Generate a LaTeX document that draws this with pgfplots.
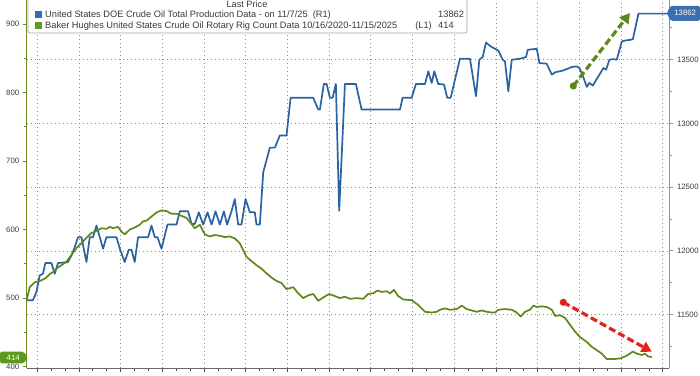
\documentclass[border=0pt]{standalone}
\usepackage{fontspec}
\setmainfont{Liberation Sans}
\usepackage{pgfplots}
\pgfplotsset{compat=1.18}
\usetikzlibrary{arrows.meta}
\definecolor{blueline}{HTML}{2B63A0}
\definecolor{greenline}{HTML}{5F8719}
\definecolor{leftspine}{HTML}{6B8E23}
\definecolor{rightspine}{HTML}{7A96B5}
\definecolor{gridc}{HTML}{8A8A8A}
\definecolor{tickc}{HTML}{3A3A3A}
\definecolor{gtag}{HTML}{5C9A1B}
\definecolor{btag}{HTML}{3A6FB0}
\definecolor{legblue}{HTML}{2F6EB5}
\definecolor{leggreen}{HTML}{5E9A1E}
\definecolor{redarrow}{HTML}{E32219}
\definecolor{greenarrow}{HTML}{5C8A1A}

\pgfplotstableread{
t v
0.00 497
0.29 516
0.77 523
1.25 525
1.56 527
1.89 530
2.21 535
2.52 538
2.85 543
3.33 548
3.81 553
4.29 563
4.77 573
5.25 580
5.73 588
6.21 595
6.69 598
7.17 602
7.65 601
7.97 604
8.28 602
8.76 604
9.09 597
9.40 593
9.88 600
10.36 603
10.84 607
11.16 612
11.49 613
11.97 619
12.45 625
12.93 628
13.41 627
13.89 623
14.37 623
14.85 620
15.33 617
15.81 608
16.12 602
16.60 607
17.08 593
17.56 590
18.04 592
18.52 591
19.00 589
19.48 590
19.96 587
20.44 580
21.08 560
21.56 554
22.04 548
22.52 543
23.00 536
23.48 530
23.96 525
24.44 522
24.92 513
25.56 516
26.04 507
26.52 500
27.00 504
27.48 506
27.96 496
28.44 501
29.01 506
29.56 503
30.04 500
30.52 502
31.00 499
31.64 500
32.27 499
32.75 506
33.23 507
33.62 511
34.04 509
34.52 510
34.84 507
35.22 512
35.63 503
36.11 498
36.92 497
37.55 490
38.20 480
38.84 479
39.32 480
39.64 483
40.12 485
40.60 483
41.24 484
41.72 489
42.20 484
42.68 482
43.16 480
43.64 482
44.12 480
44.60 479
44.91 479
45.23 483
45.87 484
46.52 483
47.00 479
47.38 473
47.79 480
48.27 483
48.59 489
48.92 487
49.40 488
49.88 487
50.36 483
50.67 474
51.15 475
51.63 471
52.11 461
52.59 451
53.07 443
53.71 436
54.19 429
54.67 424
55.15 419
55.63 411
56.27 411
56.91 412
57.55 416
58.13 422
58.51 419
58.99 417
59.31 419
59.57 415
59.95 414
}\rigtable

\pgfplotstableread{
t v
0.00 11612
0.60 11612
0.93 11677
1.25 11807
1.56 11820
1.79 11904
2.37 11904
2.69 11820
3.00 11904
3.96 11912
4.29 11963
4.61 12029
4.92 12107
5.25 12107
5.73 11912
6.05 12107
6.36 12107
6.69 12198
7.01 12107
7.32 12016
7.65 12107
8.61 12107
8.93 12016
9.40 11912
9.79 12008
10.05 12008
10.36 11912
10.68 12107
11.64 12107
11.97 12198
12.28 12107
12.54 12107
12.93 12016
13.50 12206
14.37 12206
14.68 12310
15.48 12310
15.81 12211
16.12 12211
16.51 12302
16.92 12206
17.34 12302
17.73 12206
18.11 12310
18.52 12206
18.91 12310
19.22 12206
19.64 12310
19.96 12406
20.28 12206
20.60 12206
20.99 12406
21.40 12302
21.88 12302
22.04 12206
22.36 12206
22.68 12615
23.32 12810
23.80 12810
24.28 12906
24.92 12906
25.31 13201
27.48 13201
27.96 13109
28.12 13109
28.50 13310
28.76 13310
29.08 13201
29.34 13201
29.65 13310
29.97 12315
30.52 13310
31.57 13310
32.12 13109
35.80 13109
36.05 13201
36.92 13201
37.33 13310
38.20 13310
38.51 13409
38.84 13318
39.09 13409
39.47 13310
40.02 13305
40.33 13201
40.66 13201
41.55 13508
42.51 13508
43.09 13213
43.41 13500
43.73 13521
44.05 13635
44.50 13604
45.23 13573
45.65 13500
45.87 13487
46.19 13252
46.52 13500
47.31 13508
47.89 13521
48.05 13578
48.92 13586
49.17 13474
49.87 13469
50.36 13383
50.67 13401
51.47 13416
52.28 13443
52.75 13448
53.01 13435
53.33 13375
53.71 13287
53.96 13318
54.29 13297
54.83 13370
55.31 13435
55.57 13422
55.88 13500
56.27 13505
56.59 13500
57.07 13643
57.39 13651
57.87 13656
58.13 13661
58.67 13862
61.60 13862
}\prodtable

\begin{document}
\begin{tikzpicture}[x=1bp,y=1bp]
\useasboundingbox (-26.7,-7) rectangle (673.3,368);
\pgfplotsset{
  base/.style={
    scale only axis, width=642.3bp, height=368bp,
    at={(0,0)}, anchor=south west,
    xmin=0, xmax=61.6,
    tick align=outside,
    major tick length=4bp, minor tick length=2.5bp,
    scaled y ticks=false,
    /pgf/number format/1000 sep={},
    /pgf/number format/assume math mode=true,
    ticklabel style={font=\fontsize{7.8}{9}\selectfont, text=tickc},
  }
}
% right axis: production (blue), grid, bottom axis
\begin{axis}[base,
  axis y line*=right, axis x line*=bottom,
  ymin=11080, ymax=13969,
  ytick={11500,12000,12500,13000,13500},
  minor ytick={11250,11750,12250,12750,13250,13750},
  xtick={1,5,...,61}, xticklabels={}, minor x tick num=2,
  xmajorgrids, ymajorgrids,
  major grid style={draw=gridc, line width=0.6bp, dash pattern=on 0.8bp off 3.2bp},
  y axis line style={draw=rightspine, line width=0.9bp},
  x axis line style={draw=gray!80!black, line width=0.6bp},
  ytick style={draw=rightspine, line width=0.8bp},
  xtick style={draw=gray!60!black, line width=0.6bp},
  yticklabel style={xshift=0.5bp},
]
\addplot[blueline, line width=1.7bp, line join=round] table[x=t, y=v] {\prodtable};
\end{axis}
% left axis: rig count (green)
\begin{axis}[base,
  axis y line*=left, axis x line=none,
  ymin=398, ymax=935,
  ytick={400,500,600,700,800,900},
  minor ytick={450,550,650,750,850},
  y axis line style={draw=leftspine, line width=0.9bp},
  ytick style={draw=leftspine, line width=0.8bp},
  xtick=\empty,
]
\addplot[greenline, line width=1.7bp, line join=round] table[x=t, y=v] {\rigtable};
\end{axis}

% annotations
\draw[greenarrow, line width=3.2bp, dash pattern=on 7bp off 3.5bp, -{Triangle[length=10bp, width=11bp]}] (546.6,282) -- (603.3,355);
\fill[greenarrow] (546.6,282) circle (3.6bp);
\draw[redarrow, line width=3.2bp, dash pattern=on 7bp off 3.5bp, -{Triangle[length=10bp, width=11bp]}] (536.6,65.7) -- (625,16.3);
\fill[redarrow] (536.6,65.7) circle (3.6bp);

% value tags
\fill[gtag, rounded corners=1.5bp] (-26.7,4.7) -- (-3,4.7) -- (1,10.5) -- (-3,16.3) -- (-26.7,16.3) -- cycle;
\node[text=white, font=\fontsize{7.8}{9}\selectfont] at (-13.5,10.5) {414};
\fill[btag, rounded corners=1.5bp] (640,354.7) -- (644,347.2) -- (673.3,347.2) -- (673.3,362.2) -- (644,362.2) -- cycle;
\node[text=white, font=\fontsize{7.8}{9}\selectfont] at (658.5,354.7) {13862};

% legend
\fill[white] (1.3,372) rectangle (440.3,335);
\draw[gray!70, line width=0.7bp, rounded corners=2bp] (1.3,375) -- (1.3,335) -- (440.3,335) -- (440.3,375);
\node[inner sep=0, text=tickc, font=\fontsize{9.2}{11}\selectfont] at (220.3,363.4) {Last Price};
\fill[legblue] (8.3,357) rectangle (15.3,350);
\fill[leggreen] (8.3,346) rectangle (15.3,339);
\node[anchor=base west, inner sep=0, text=tickc, font=\fontsize{9.3}{11}\selectfont] at (18.3,350.6) {United States DOE Crude Oil Total Production Data - on 11/7/25 \ (R1)};
\node[anchor=base west, inner sep=0, text=tickc, font=\fontsize{9.3}{11}\selectfont] at (411.3,350.6) {13862};
\node[anchor=base west, inner sep=0, text=tickc, font=\fontsize{9.3}{11}\selectfont] at (18.3,339.6) {Baker Hughes United States Crude Oil Rotary Rig Count Data 10/16/2020-11/15/2025};
\node[anchor=base east, inner sep=0, text=tickc, font=\fontsize{9.3}{11}\selectfont] at (405.3,339.6) {(L1)};
\node[anchor=base west, inner sep=0, text=tickc, font=\fontsize{9.3}{11}\selectfont] at (411.3,339.6) {414};
\end{tikzpicture}
\end{document}
